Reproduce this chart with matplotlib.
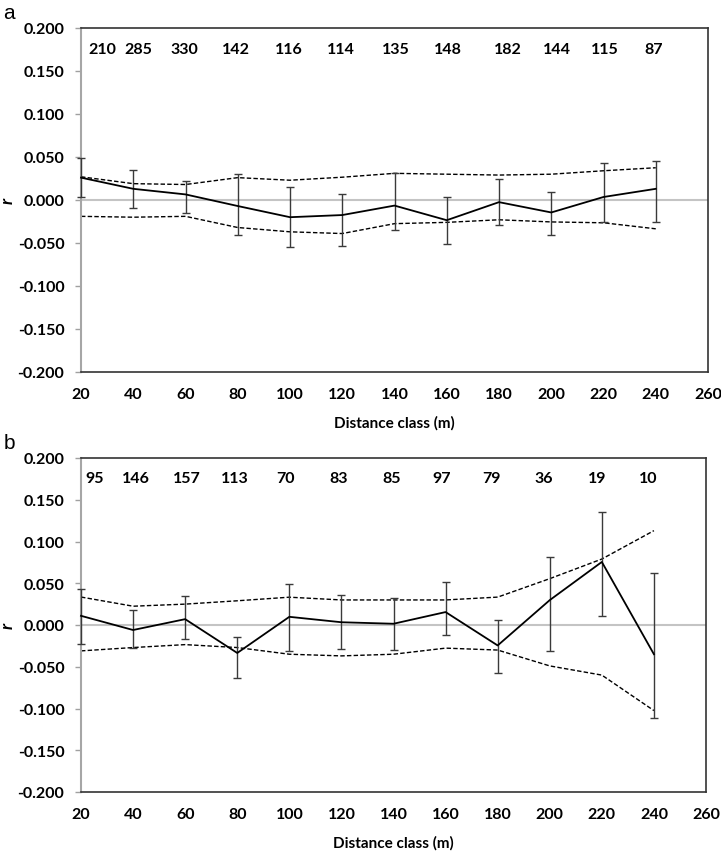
import matplotlib
matplotlib.use("Agg")
import matplotlib.pyplot as plt
from matplotlib.ticker import FuncFormatter, MultipleLocator

plt.rcParams['font.family'] = ['Lato', 'DejaVu Sans']

# ---------------- data ----------------
dist = [20, 40, 60, 80, 100, 120, 140, 160, 180, 200, 220, 240]

# panel a
n_a = [210, 285, 330, 142, 116, 114, 135, 148, 182, 144, 115, 87]
r_a = [0.026, 0.013, 0.0065, -0.007, -0.020, -0.0175, -0.0065, -0.0235, -0.0025, -0.0145, 0.0035, 0.013]
err_hi_a = [0.049, 0.035, 0.022, 0.030, 0.015, 0.0075, 0.031, 0.0035, 0.024, 0.009, 0.0435, 0.045]
err_lo_a = [0.003, -0.009, -0.015, -0.041, -0.055, -0.053, -0.035, -0.051, -0.029, -0.041, -0.026, -0.026]
env_hi_a = [0.027, 0.019, 0.018, 0.026, 0.023, 0.0265, 0.031, 0.030, 0.029, 0.030, 0.034, 0.0375]
env_lo_a = [-0.019, -0.020, -0.019, -0.032, -0.037, -0.039, -0.0275, -0.026, -0.023, -0.0255, -0.0265, -0.0335]

# panel b
n_b = [95, 146, 157, 113, 70, 83, 85, 97, 79, 36, 19, 10]
r_b = [0.011, -0.006, 0.007, -0.0335, 0.0098, 0.0033, 0.0015, 0.0155, -0.0245, 0.0298, 0.0755, -0.035]
err_hi_b = [0.043, 0.018, 0.0345, -0.014, 0.049, 0.0365, 0.032, 0.051, 0.006, 0.082, 0.135, 0.062]
err_lo_b = [-0.023, -0.028, -0.017, -0.063, -0.031, -0.029, -0.030, -0.0115, -0.058, -0.031, 0.0105, -0.111]
env_hi_b = [0.0335, 0.0225, 0.025, 0.029, 0.0333, 0.030, 0.030, 0.030, 0.0334, 0.0555, 0.079, 0.113]
env_lo_b = [-0.031, -0.027, -0.0235, -0.027, -0.035, -0.037, -0.035, -0.0277, -0.030, -0.049, -0.060, -0.1025]

# count label x positions (layout)
lab_x_a = [28, 41.8, 59.4, 79.5, 99.6, 119.5, 140.6, 160.5, 183.4, 202, 220.6, 239]
lab_x_b = [25.4, 41, 60.8, 79.2, 98.7, 119, 139.2, 158.4, 177.8, 197.6, 218.4, 237.8]

W, H = 721, 853
fig = plt.figure(figsize=(W / 100, H / 100), dpi=100)

def px_axes(left, right, top, bottom):
    return fig.add_axes([left / W, 1 - bottom / H, (right - left) / W, (bottom - top) / H])

ax_a = px_axes(81, 708, 29, 373)
ax_b = px_axes(81, 706, 459, 793)

FS = 11.5

def draw(ax, r, ehi, elo, envh, envl, counts, labx, letter):
    ax.set_xlim(20, 260)
    ax.set_ylim(-0.2, 0.2)
    ax.axhline(0, color='#c4c4c4', lw=1.5, zorder=1)
    yerr = [[ri - lo for ri, lo in zip(r, elo)], [hi - ri for ri, hi in zip(r, ehi)]]
    ax.errorbar(dist, r, yerr=yerr, fmt='none', ecolor='#3a3a3a', elinewidth=1.0,
                capsize=3, capthick=1.0, zorder=3, clip_on=False)
    ax.plot(dist, r, color='black', lw=1.3, zorder=4, clip_on=False)
    ax.plot(dist, envh, color='black', lw=1.0, ls=(0, (3.2, 1.6)), zorder=2, clip_on=False)
    ax.plot(dist, envl, color='black', lw=1.0, ls=(0, (3.2, 1.6)), zorder=2, clip_on=False)
    for xx, n in zip(labx, counts):
        ax.text(xx, 0.176, str(n), ha='center', va='center', fontsize=FS,
                fontweight='bold', color='black')
    ax.xaxis.set_major_locator(MultipleLocator(20))
    ax.yaxis.set_major_locator(MultipleLocator(0.05))
    ax.yaxis.set_major_formatter(FuncFormatter(lambda v, p: f"{v:.3f}".replace('-0.000', '0.000')))
    ax.tick_params(axis='x', length=0, pad=11, labelsize=FS)
    ax.tick_params(axis='y', length=4, width=1.0, color='#a0a0a0', pad=8, labelsize=FS)
    for lab in ax.get_xticklabels() + ax.get_yticklabels():
        lab.set_fontweight('bold')
    ax.spines['left'].set_color('#a6a6a6')
    ax.spines['left'].set_linewidth(1.5)
    for s in ['top', 'right', 'bottom']:
        ax.spines[s].set_color('#333333')
        ax.spines[s].set_linewidth(1.2)
    ax.set_xlabel('Distance class (m)', fontsize=FS - 0.5, fontweight='bold', labelpad=10)
    ax.set_ylabel('r', fontsize=FS + 1, fontweight='bold', style='italic')
    ax.yaxis.set_label_coords(-0.104, 0.5)
    ax.text(-0.124, 1.045, letter, transform=ax.transAxes, fontsize=15,
            ha='left', va='center', family=['Liberation Sans', 'DejaVu Sans'])

draw(ax_a, r_a, err_hi_a, err_lo_a, env_hi_a, env_lo_a, n_a, lab_x_a, 'a')
draw(ax_b, r_b, err_hi_b, err_lo_b, env_hi_b, env_lo_b, n_b, lab_x_b, 'b')

fig.savefig('out.png', dpi=100)
